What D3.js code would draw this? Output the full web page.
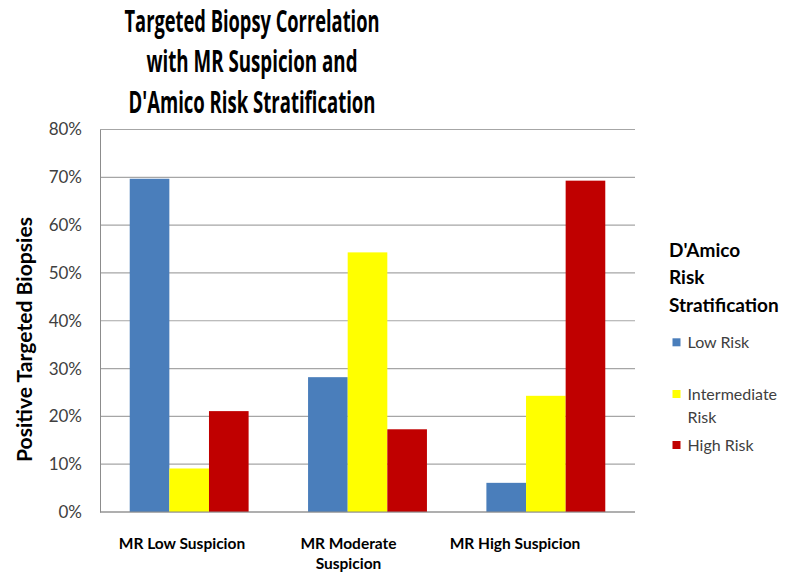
<!DOCTYPE html>
<html>
<head>
<meta charset="utf-8">
<script src="https://cdn.jsdelivr.net/npm/d3@7"></script>
<style>
  body { margin: 0; background: #fff; }
  text { font-family: Lato, "Open Sans", sans-serif; }
</style>
</head>
<body>
<div id="chart"></div>
<script>
// Chart data
const categories = ["MR Low Suspicion", "MR Moderate Suspicion", "MR High Suspicion"];
const categoryLines = [["MR Low Suspicion"], ["MR Moderate", "Suspicion"], ["MR High Suspicion"]];
const seriesNames = ["Low Risk", "Intermediate Risk", "High Risk"];
const lowRisk = [69.7, 28.2, 6.1];
const intermediateRisk = [9.1, 54.3, 24.3];
const highRisk = [21.1, 17.3, 69.3];
const yTicks = [0, 10, 20, 30, 40, 50, 60, 70, 80];
const titleLines = ["Targeted Biopsy Correlation", "with MR Suspicion and", "D'Amico Risk Stratification"];
const colors = ["#4a7ebb", "#ffff00", "#c00000"];

const svgWidth = 800,
      svgHeight = 586,
      margin = { top: 129.5, right: 165, bottom: 74, left: 100 };

const width = svgWidth - margin.left - margin.right;
const height = svgHeight - margin.top - margin.bottom;

const svg = d3.select("#chart")
  .append("svg")
  .attr("width", svgWidth)
  .attr("height", svgHeight);

// title
const titleGroup = svg.append("g");
const titleWidths = [255, 211, 247];
titleLines.forEach((line, i) => {
  titleGroup.append("text")
    .attr("x", 252)
    .attr("y", 31.5 + i * 40.5)
    .attr("text-anchor", "middle")
    .attr("font-size", "30px")
    .attr("font-weight", "bold")
    .attr("fill", "#000")
    .style("font-family", "'Open Sans', sans-serif")
    .attr("textLength", titleWidths[i])
    .attr("lengthAdjust", "spacingAndGlyphs")
    .text(line);
});

const chartGroup = svg.append("g")
  .attr("transform", `translate(${margin.left}, ${margin.top})`);

// scales (gap width 150% of a bar)
const x0 = d3.scaleBand()
  .domain(categories)
  .range([0, width])
  .paddingInner(1.5 / 4.5)
  .paddingOuter(0.75 / 4.5);

const x1 = d3.scaleBand()
  .domain(seriesNames)
  .range([0, x0.bandwidth()]);

const y = d3.scaleLinear()
  .domain([0, 80])
  .range([height, 0]);

// gridlines
chartGroup.append("g")
  .selectAll("line")
  .data(yTicks)
  .enter()
  .append("line")
  .attr("x1", 0)
  .attr("x2", width)
  .attr("y1", d => y(d))
  .attr("y2", d => y(d))
  .attr("stroke", "#a6a6a6")
  .attr("stroke-width", 1.2);

// y axis
const leftAxis = d3.axisLeft(y)
  .tickValues(yTicks)
  .tickSize(0)
  .tickPadding(18)
  .tickFormat(d => d + "%");

const yAxis = chartGroup.append("g").call(leftAxis);
yAxis.select(".domain").attr("stroke", "#8c8c8c");
yAxis.selectAll("text")
  .attr("font-size", "17px")
  .attr("fill", "#404040")
  .style("font-family", "Lato, sans-serif");

// bars
const seriesData = [lowRisk, intermediateRisk, highRisk];
const rows = [];
categories.forEach((c, i) => {
  seriesNames.forEach((s, j) => {
    rows.push({ cat: c, series: s, value: seriesData[j][i], color: colors[j] });
  });
});

chartGroup.append("g")
  .selectAll("rect")
  .data(rows)
  .enter()
  .append("rect")
  .attr("x", d => x0(d.cat) + x1(d.series))
  .attr("y", d => y(d.value))
  .attr("width", x1.bandwidth())
  .attr("height", d => height - y(d.value))
  .attr("fill", d => d.color);

// x axis baseline
chartGroup.append("line")
  .attr("x1", 0)
  .attr("x2", width)
  .attr("y1", height)
  .attr("y2", height)
  .attr("stroke", "#8c8c8c")
  .attr("stroke-width", 1.2);

// category labels (sit a little left of the band centres in the picture)
const xLabel = d3.scalePoint()
  .domain(categories)
  .range([82, 415]);

categories.forEach((c, i) => {
  const t = chartGroup.append("text")
    .attr("x", xLabel(c))
    .attr("y", height + 36.5)
    .attr("text-anchor", "middle")
    .attr("font-size", "15.5px")
    .attr("font-weight", "bold")
    .attr("fill", "#000");
  categoryLines[i].forEach((line, k) => {
    t.append("tspan")
      .attr("x", xLabel(c))
      .attr("dy", k === 0 ? 0 : 20)
      .text(line);
  });
});

// y axis title
svg.append("text")
  .attr("transform", "translate(32, 339.5) rotate(-90)")
  .attr("text-anchor", "middle")
  .attr("font-size", "21px")
  .attr("font-weight", "bold")
  .attr("fill", "#000")
  .attr("textLength", 245)
  .attr("lengthAdjust", "spacingAndGlyphs")
  .text("Positive Targeted Biopsies");

// legend
const legend = svg.append("g");
["D'Amico", "Risk", "Stratification"].forEach((line, i) => {
  legend.append("text")
    .attr("x", 669)
    .attr("y", 256.5 + i * 27.6)
    .attr("font-size", "19px")
    .attr("font-weight", "bold")
    .attr("fill", "#000")
    .text(line);
});

const legendItems = [
  { lines: ["Low Risk"], y: 348.3 },
  { lines: ["Intermediate", "Risk"], y: 400 },
  { lines: ["High Risk"], y: 451 }
];

legendItems.forEach((item, i) => {
  legend.append("rect")
    .attr("x", 672.5)
    .attr("y", item.y - 10)
    .attr("width", 8)
    .attr("height", 8)
    .attr("fill", colors[i]);
  item.lines.forEach((line, k) => {
    legend.append("text")
      .attr("x", 687.5)
      .attr("y", item.y + k * 23.3)
      .attr("font-size", "16px")
      .attr("fill", "#404040")
      .text(line);
  });
});
</script>
</body>
</html>
